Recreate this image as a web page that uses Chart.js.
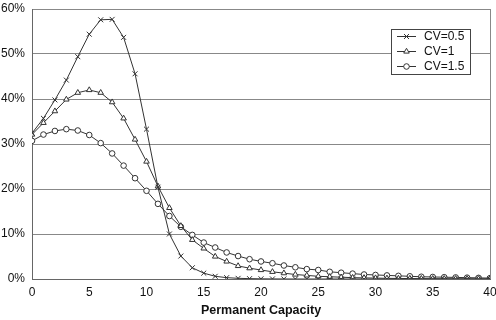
<!DOCTYPE html>
<html><head><meta charset="utf-8">
<script src="https://cdn.jsdelivr.net/npm/chart.js@4/dist/chart.umd.min.js"></script>
<style>html,body{margin:0;padding:0;background:#fff}#wrap{width:496px;height:320px}</style>
</head><body><div id="wrap"><canvas id="c" width="496" height="320"></canvas></div>
<script>
const capacity = [0,1,2,3,4,5,6,7,8,9,10,11,12,13,14,15,16,17,18,19,20,21,22,23,24,25,26,27,28,29,30,31,32,33,34,35,36,37,38,39,40];
const cv05 = [32.4,35.7,39.8,44.2,49.4,54.4,57.6,57.7,53.7,45.6,33.3,20.4,10.0,5.1,2.5,1.3,0.6,0.3,0.15,0.08,0.04,0.02,0.01,0,0,0,0,0,0,0,0,0,0,0,0,0,0,0,0,0,0];
const cv1 = [32.1,34.7,37.3,39.9,41.4,42.0,41.4,39.3,35.7,31.0,26.1,20.6,15.8,11.8,8.7,6.8,5.0,3.9,2.9,2.4,2.0,1.6,1.3,1.0,0.8,0.6,0.5,0.4,0.3,0.25,0.2,0.15,0.12,0.1,0.08,0.06,0.05,0.04,0.03,0.02,0.02];
const cv15 = [30.7,32.1,32.9,33.3,33.0,32.0,30.2,27.9,25.2,22.4,19.6,16.7,14.0,11.6,9.8,8.1,7.0,5.9,5.1,4.4,3.9,3.5,3.0,2.6,2.2,2.0,1.6,1.4,1.2,1.0,0.9,0.8,0.7,0.6,0.5,0.45,0.4,0.35,0.3,0.25,0.2];
const seriesLabels = ['CV=0.5','CV=1','CV=1.5'];
const xTitle = 'Permanent Capacity';

const FONT = "'Liberation Sans', Arial, sans-serif";
const LINE = '#333';
function pts(arr){ return capacity.map((x,i)=>({x:x,y:arr[i]})); }
function ds(label, arr, style, r){
  return {label, data: pts(arr), borderColor: LINE, borderWidth: 1, pointStyle: style,
    pointRadius: r, pointHoverRadius: r, pointBorderColor: LINE, pointBorderWidth: 1,
    pointBackgroundColor: '#fff', tension: 0, fill: false};
}

const extras = {
  id: 'extras',
  beforeDatasetsDraw(chart){
    const {ctx, chartArea:a} = chart;
    ctx.save();
    ctx.strokeStyle = '#888'; ctx.lineWidth = 1;
    ctx.beginPath(); ctx.moveTo(Math.round(a.right)+0.5, a.top); ctx.lineTo(Math.round(a.right)+0.5, a.bottom); ctx.stroke();
    ctx.restore();
  },
  afterDraw(chart){
    const {ctx} = chart;
    const bx = 391, by = 29, bw = 79, bh = 45;
    ctx.save();
    ctx.fillStyle = '#fff'; ctx.fillRect(bx, by, bw, bh);
    ctx.strokeStyle = '#444'; ctx.lineWidth = 1;
    ctx.strokeRect(bx+0.5, by+0.5, bw, bh);
    ctx.font = '12px ' + FONT; ctx.textBaseline = 'middle';
    chart.data.datasets.forEach((d, i) => {
      const y = by + 7.5 + i*15;
      ctx.strokeStyle = LINE; ctx.lineWidth = 1;
      ctx.beginPath(); ctx.moveTo(bx+6, y); ctx.lineTo(bx+25, y); ctx.stroke();
      ctx.fillStyle = '#fff'; ctx.strokeStyle = LINE;
      Chart.helpers.drawPoint(ctx, {pointStyle: d.pointStyle, radius: d.pointRadius, borderWidth: 1, rotation: 0}, bx+15.5, y);
      ctx.fillStyle = '#111';
      ctx.fillText(d.label, bx+33, y+0.5);
    });
    ctx.restore();
  }
};

new Chart(document.getElementById('c'), {
  type: 'line',
  data: { datasets: [ ds(seriesLabels[0], cv05, 'crossRot', 3.5), ds(seriesLabels[1], cv1, 'triangle', 3.2), ds(seriesLabels[2], cv15, 'circle', 2.8) ] },
  options: {
    responsive: false, animation: false, devicePixelRatio: 1,
    layout: { padding: { left: 0, right: 6, top: 9, bottom: 0 } },
    plugins: { legend: { display: false }, tooltip: { enabled: false } },
    scales: {
      x: { type: 'linear', min: 0, max: 40,
        ticks: { stepSize: 5, padding: 6, color: '#111', font: { family: FONT, size: 12 }, maxRotation: 0 },
        grid: { display: false, drawTicks: false },
        border: { display: true, color: '#666', width: 1 },
        title: { display: true, text: xTitle, color: '#111', font: { family: FONT, size: 12.5, weight: 'bold' }, padding: { top: 4, bottom: 2 } },
        afterFit(s){ s.height = 41; s.paddingLeft = 0; s.paddingRight = 0; }
      },
      y: { min: 0, max: 60,
        ticks: { stepSize: 10, padding: 7, color: '#111', font: { family: FONT, size: 12 }, callback: v => v + '%' },
        grid: { color: '#888', lineWidth: 1, drawTicks: false },
        border: { display: true, color: '#666', width: 1 },
        afterFit(s){ s.width = 32; s.paddingTop = 0; s.paddingBottom = 0; }
      }
    }
  },
  plugins: [extras]
});
</script></body></html>
